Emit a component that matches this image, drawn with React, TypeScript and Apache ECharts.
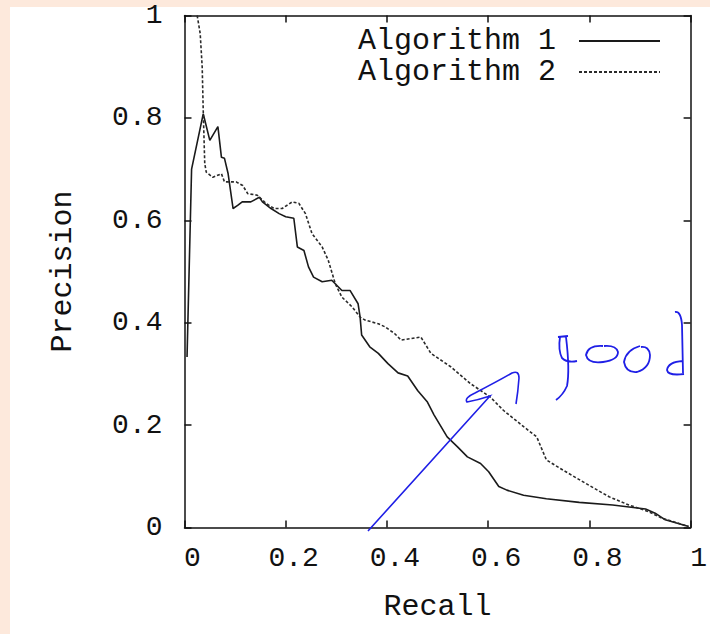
import React, { useEffect, useRef } from "react";
import * as echarts from "echarts";

const seriesNames = ["Algorithm 1", "Algorithm 2"];
const axisTicks = [0, 0.2, 0.4, 0.6, 0.8, 1];

const algorithm1Points: number[][] = [
  [0.005, 0.333], [0.014, 0.70], [0.037, 0.808], [0.05, 0.756], [0.066, 0.783],
  [0.073, 0.723], [0.079, 0.721], [0.086, 0.692], [0.096, 0.623], [0.105, 0.629],
  [0.114, 0.636], [0.131, 0.636], [0.148, 0.645], [0.154, 0.636], [0.171, 0.623],
  [0.187, 0.613], [0.2, 0.607], [0.216, 0.604], [0.223, 0.548], [0.236, 0.541],
  [0.245, 0.509], [0.255, 0.489], [0.272, 0.48], [0.291, 0.483], [0.311, 0.463],
  [0.327, 0.463], [0.343, 0.437], [0.347, 0.411], [0.35, 0.376], [0.366, 0.353],
  [0.383, 0.34], [0.402, 0.32], [0.422, 0.302], [0.441, 0.296], [0.461, 0.267],
  [0.48, 0.245], [0.493, 0.22], [0.519, 0.177], [0.539, 0.158], [0.559, 0.138],
  [0.585, 0.125], [0.601, 0.109], [0.621, 0.08], [0.637, 0.073], [0.67, 0.063],
  [0.715, 0.056], [0.78, 0.049], [0.846, 0.044], [0.911, 0.036], [0.93, 0.028],
  [0.95, 0.015], [0.996, 0.002],
];

const algorithm2Points: number[][] = [
  [0.025, 1.0], [0.031, 0.965], [0.035, 0.899], [0.037, 0.815], [0.04, 0.711],
  [0.043, 0.694], [0.056, 0.684], [0.073, 0.691], [0.079, 0.675], [0.102, 0.675],
  [0.115, 0.668], [0.125, 0.652], [0.144, 0.649], [0.161, 0.633], [0.177, 0.623],
  [0.193, 0.623], [0.213, 0.636], [0.226, 0.633], [0.239, 0.613], [0.252, 0.574],
  [0.272, 0.548], [0.284, 0.522], [0.298, 0.476], [0.311, 0.45], [0.331, 0.431],
  [0.347, 0.411], [0.357, 0.405], [0.383, 0.398], [0.396, 0.392], [0.415, 0.379],
  [0.428, 0.366], [0.448, 0.369], [0.467, 0.372], [0.487, 0.34], [0.526, 0.314],
  [0.565, 0.281], [0.604, 0.255], [0.63, 0.229], [0.67, 0.197], [0.696, 0.177],
  [0.715, 0.132], [0.748, 0.112], [0.793, 0.086], [0.839, 0.06], [0.878, 0.044],
  [0.917, 0.031], [0.944, 0.018], [0.996, 0.002],
];

const FONT = "'Liberation Mono', 'Courier New', monospace";

echarts.graphic.registerShape(
  "annoArrow",
  echarts.graphic.extendPath(
    "M368,531 L490,396 Q478,400 467,402 Q464,398 475,393 Q500,380 512,373 Q519,370 519,378 Q518,392 516,404",
    {}
  )
);
echarts.graphic.registerShape(
  "annoGood",
  echarts.graphic.extendPath(
    "M558,337 L568,336 M560,337 Q558,350 562,358 Q567,363 577,361 M566,337 Q570,370 567,386 Q563,395 556,400 " +
      "M603,346 Q588,345 586,355 Q588,364 603,362 Q618,360 618,352 Q616,345 604,346 " +
      "M640,346 Q626,350 624,362 Q626,373 637,372 Q650,368 650,355 Q649,346 641,347 " +
      "M675,312 Q681,311 682,325 L683,373 M683,361 Q668,362 667,370 Q668,376 684,374",
    {}
  )
);

export default function App() {
  const ref = useRef<HTMLDivElement>(null);
  useEffect(() => {
    if (!ref.current) return;
    const chart = echarts.init(ref.current, undefined, { renderer: "svg" });
    const axisCommon = {
      type: "value" as const,
      min: 0,
      max: 1,
      interval: 0.2,
      splitLine: { show: false },
      axisLine: { show: true, onZero: false, lineStyle: { color: "#111", width: 1.5 } },
      axisTick: { show: true, inside: true, length: 7, lineStyle: { color: "#111", width: 1.5 } },
    };
    chart.setOption({
      animation: false,
      backgroundColor: "#ffffff",
      grid: { left: 184.5, right: 15, top: 15.5, bottom: 106.5, containLabel: false },
      legend: {
        show: true,
        orient: "vertical",
        right: 44,
        top: 21,
        align: "right",
        itemWidth: 81,
        itemHeight: 14,
        itemGap: 1,
        itemStyle: { opacity: 0 },
        textStyle: { fontFamily: FONT, fontSize: 30, color: "#111", padding: [0, 18, 0, 0] },
        data: seriesNames,
      },
      xAxis: [
        {
          ...axisCommon,
          position: "bottom",
          name: "Recall",
          nameLocation: "middle",
          nameGap: 64,
          nameTextStyle: { fontFamily: FONT, fontSize: 30, color: "#111" },
          axisLabel: {
            fontFamily: FONT,
            fontSize: 28,
            color: "#111",
            margin: 17,
            padding: [0, 0, 0, 16],
            formatter: (v: number) => (axisTicks.includes(Math.round(v * 10) / 10) ? String(Math.round(v * 10) / 10) : ""),
          },
        },
        { ...axisCommon, position: "top", axisLabel: { show: false } },
      ],
      yAxis: [
        {
          ...axisCommon,
          position: "left",
          name: "Precision",
          nameLocation: "middle",
          nameGap: 107,
          nameTextStyle: { fontFamily: FONT, fontSize: 30, color: "#111" },
          axisLabel: {
            fontFamily: FONT,
            fontSize: 28,
            color: "#111",
            margin: 22,
            formatter: (v: number) => String(Math.round(v * 10) / 10),
          },
        },
        { ...axisCommon, position: "right", axisLabel: { show: false } },
      ],
      series: [
        {
          name: seriesNames[0],
          type: "line",
          data: algorithm1Points,
          symbol: "none",
          clip: true,
          lineStyle: { color: "#1a1a1a", width: 1.6, type: "solid" },
          itemStyle: { color: "#1a1a1a" },
        },
        {
          name: seriesNames[1],
          type: "line",
          data: algorithm2Points,
          symbol: "none",
          clip: true,
          lineStyle: { color: "#2a2a2a", width: 1.6, type: [3, 2] },
          itemStyle: { color: "#2a2a2a" },
        },
      ],
      graphic: [
        { type: "rect", left: 0, top: 0, shape: { width: 710, height: 7 }, style: { fill: "#FDE9DC" }, silent: true },
        { type: "rect", left: 0, top: 0, shape: { width: 10, height: 634 }, style: { fill: "#FDE9DC" }, silent: true },
        {
          type: "annoArrow",
          x: 0,
          y: 0,
          style: { fill: null, stroke: "#1f1fe6", lineWidth: 1.6 },
          silent: true,
          z: 100,
        },
        {
          type: "annoGood",
          x: 0,
          y: 0,
          style: { fill: null, stroke: "#1f1fe6", lineWidth: 1.8 },
          silent: true,
          z: 100,
        },
      ],
    });
    return () => chart.dispose();
  }, []);
  return (
    <div
      ref={ref}
      style={{ position: "absolute", left: 0, top: 0, width: 710, height: 634, background: "#fff" }}
    />
  );
}
